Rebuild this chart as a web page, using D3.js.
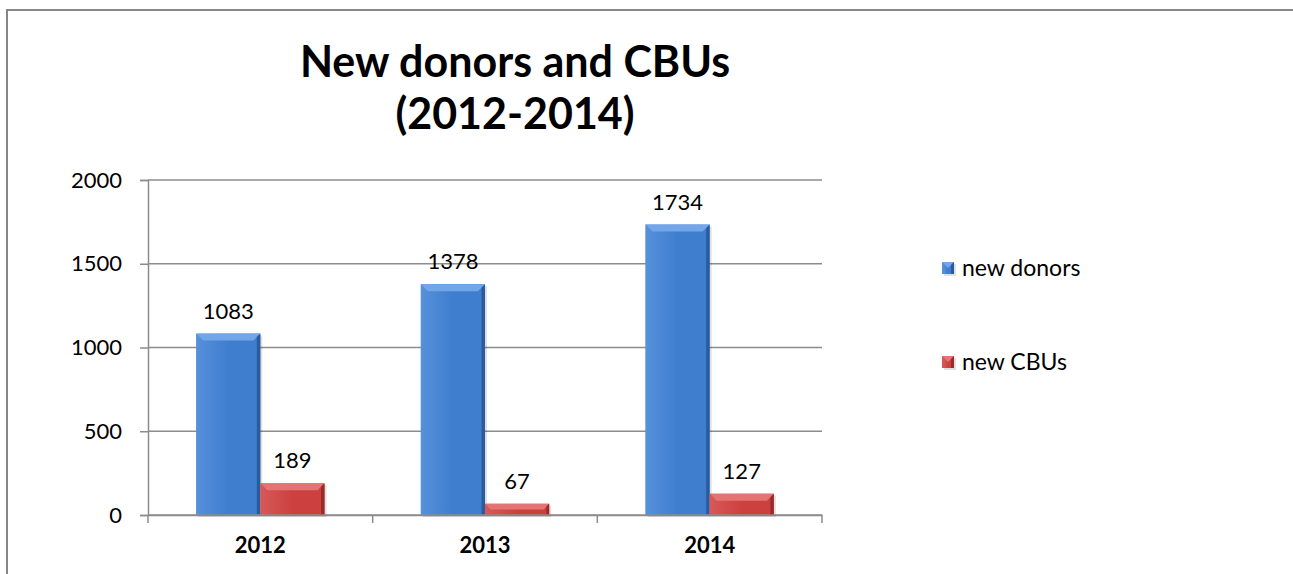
<!DOCTYPE html>
<html><head><meta charset="utf-8">
<script src="https://cdn.jsdelivr.net/npm/d3@7"></script>
<style>html,body{margin:0;padding:0;background:#fff;}svg{display:block;}</style>
</head><body>
<script>
const categories = ["2012", "2013", "2014"];
const seriesNames = ["new donors", "new CBUs"];
const newDonors = [1083, 1378, 1734];
const newCBUs = [189, 67, 127];
const yTicks = [0, 500, 1000, 1500, 2000];
const titleLines = ["New donors and CBUs", "(2012-2014)"];

const W = 1293, H = 574;
const font = "Lato, 'Open Sans', sans-serif";
const svg = d3.select("body").append("svg").attr("width", W).attr("height", H);
svg.append("rect").attr("width", W).attr("height", H).attr("fill", "#fff");
svg.append("rect").attr("x", 7).attr("y", 10).attr("width", W + 20).attr("height", H + 20)
  .attr("fill", "none").attr("stroke", "#868686").attr("stroke-width", 2);

const pL = 148, pR = 822, pT = 180, pB = 515;
const y = d3.scaleLinear().domain([0, 2000]).range([pB, pT]);
const x = d3.scaleBand().domain(categories).range([pL, pR]).padding(0);
const bw = x.bandwidth() / 3.5;
const x1 = d3.scaleBand().domain(seriesNames).range([0, 2 * bw]).padding(0);

const palettes = {
  "new donors": {main: "#3F7ECF", light: "#72A6E8", dark: "#26528E", side: "#5690DA"},
  "new CBUs": {main: "#CC4140", light: "#E47473", dark: "#8E2524", side: "#D65958"}
};

const defs = svg.append("defs");
seriesNames.forEach((s, i) => {
  const p = palettes[s];
  const g = defs.append("linearGradient").attr("id", "g" + i).attr("x1", 0).attr("x2", 1).attr("y1", 0).attr("y2", 0);
  g.append("stop").attr("offset", 0).attr("stop-color", p.side);
  g.append("stop").attr("offset", 0.5).attr("stop-color", p.main);
  g.append("stop").attr("offset", 1).attr("stop-color", p.main);
});

// gridlines
const grid = svg.append("g");
grid.selectAll("line").data(yTicks.filter(d => d > 0)).join("line")
  .attr("x1", pL).attr("x2", pR).attr("y1", d => y(d)).attr("y2", d => y(d))
  .attr("stroke", "#8c8c8c").attr("stroke-width", 1.5);

// y axis
const yAxis = svg.append("g").attr("transform", `translate(${pL},0)`)
  .call(d3.axisLeft(y).tickValues(yTicks).tickFormat(d3.format("d")).tickSize(8).tickPadding(18));
yAxis.select(".domain").attr("stroke", "#8c8c8c").attr("stroke-width", 1.5);
yAxis.selectAll(".tick line").attr("stroke", "#8c8c8c").attr("stroke-width", 1.5);
yAxis.selectAll("text").attr("font-family", font).attr("font-size", 22).attr("fill", "#000");

// x axis
const xAxis = svg.append("g").attr("transform", `translate(0,${pB})`)
  .call(d3.axisBottom(x).tickSize(0).tickPadding(22));
xAxis.select(".domain").attr("stroke", "#8c8c8c").attr("stroke-width", 1.5);
xAxis.selectAll("text").attr("font-family", font).attr("font-size", 22).attr("font-weight", "bold").attr("fill", "#000");
const bounds = categories.map(c => x(c)).concat([x(categories[categories.length - 1]) + x.bandwidth()]);
xAxis.selectAll("line.bt").data(bounds).join("line").attr("class", "bt")
  .attr("x1", d => d).attr("x2", d => d).attr("y1", 0).attr("y2", 8)
  .attr("stroke", "#8c8c8c").attr("stroke-width", 1.5);

function bevelBar(g, bx, by, w, h, p, gi) {
  const b = Math.min(7, h / 2, w / 2);
  g.append("rect").attr("x", bx + 2).attr("y", by + 2).attr("width", w).attr("height", h)
    .attr("fill", "#000").attr("opacity", 0.12);
  g.append("rect").attr("x", bx).attr("y", by).attr("width", w).attr("height", h).attr("fill", `url(#g${gi})`);
  g.append("polygon").attr("points", [[bx, by], [bx + w, by], [bx + w - b, by + b], [bx + b, by + b]].join(" "))
    .attr("fill", p.light);
  g.append("polygon").attr("points", [[bx + w, by], [bx + w, by + h], [bx + w - b * 0.5, by + h], [bx + w - b * 0.5, by + b * 0.5]].join(" "))
    .attr("fill", p.dark).attr("opacity", 0.8);
  g.append("polygon").attr("points", [[bx, by], [bx + b * 0.5, by + b * 0.5], [bx + b * 0.5, by + h], [bx, by + h]].join(" "))
    .attr("fill", p.side).attr("opacity", 0.6);
}

const data = [newDonors, newCBUs];
const barsG = svg.append("g");
seriesNames.forEach((s, si) => {
  categories.forEach((c, ci) => {
    const v = data[si][ci];
    const bx = x(c) + (x.bandwidth() - 2 * bw) / 2 + x1(s);
    const g = barsG.append("g");
    bevelBar(g, bx, y(v), bw, pB - y(v), palettes[s], si);
    svg.append("text").attr("x", bx + bw / 2).attr("y", y(v) - 15)
      .attr("text-anchor", "middle").attr("font-family", font).attr("font-size", 22).attr("fill", "#000")
      .text(v);
  });
});
svg.append("line").attr("x1", pL).attr("x2", pR).attr("y1", pB).attr("y2", pB)
  .attr("stroke", "#8c8c8c").attr("stroke-width", 1.5);

// legend
const lg = svg.append("g");
seriesNames.forEach((s, i) => {
  const ly = 268 + i * 94;
  const g = lg.append("g");
  bevelBar(g, 942, ly - 6, 12, 12, palettes[s], i);
  g.append("text").attr("x", 962).attr("y", ly + 8).attr("font-family", font).attr("font-size", 23)
    .attr("fill", "#000").text(s);
});

// title
svg.append("text").attr("x", 515).attr("y", 77).attr("text-anchor", "middle")
  .attr("font-family", font).attr("font-size", 43).attr("font-weight", "bold").attr("fill", "#000")
  .selectAll("tspan").data(titleLines).join("tspan")
  .attr("x", 515).attr("dy", (d, i) => i === 0 ? 0 : 52).text(d => d);
</script>
</body></html>
